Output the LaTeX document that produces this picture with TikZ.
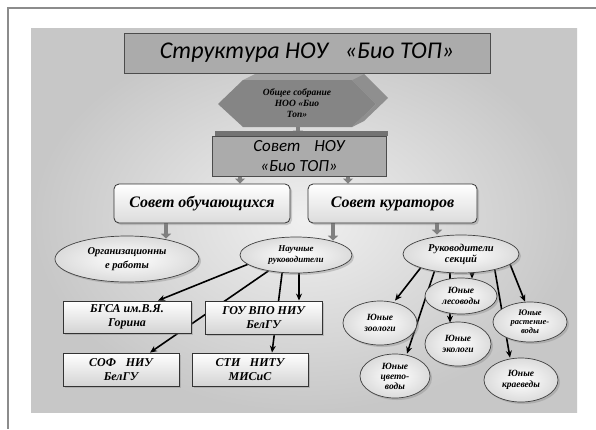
\documentclass[tikz,border=0pt]{standalone}
\usepackage{fontspec}
\setmainfont{Liberation Serif}
\newfontfamily\calib{Carlito}
\usetikzlibrary{shapes.geometric,arrows.meta,shadows,calc}
\pgfdeclarelayer{bg}
\pgfdeclarelayer{lines}
\pgfsetlayers{bg,lines,main}
\begin{document}
\begin{tikzpicture}[x=1pt,y=-1pt,
  scr/.style={font=\bfseries\itshape},
  shad/.style={drop shadow={opacity=0.35,shadow xshift=2pt,shadow yshift=-2pt}},
  graybox/.style={draw=black!70,line width=0.9pt,fill=black!33,inner sep=0,align=center},
  roundbox/.style={draw=black!80,line width=0.8pt,rounded corners=5pt,top color=white,bottom color=black!14,inner sep=0,align=center,shad},
  oval/.style={ellipse,draw=black!75,line width=0.7pt,inner color=white,outer color=black!14,inner sep=0,align=center,shad},
  recbox/.style={draw=black!80,line width=0.9pt,top color=white,bottom color=black!17,inner sep=0,align=center,shad},
  arr/.style={line width=1.6pt,-{Stealth[length=7pt,width=6pt]}},
  blk/.style={line width=4pt,draw=black!50,-{Triangle[width=10pt,length=5pt]}}]
\useasboundingbox (0,0) rectangle (596,429);
\begin{pgfonlayer}{bg}
  \fill[white] (0,0) rectangle (596,429);
  \draw[black!45,line width=1.3pt] (7,8) -- (596,8);
  \draw[black!45,line width=1.3pt] (8,8) -- (8,429);
  \shade[inner color=black!6,outer color=black!22] (31,28) rectangle (577,412);
\end{pgfonlayer}

% title
\node[graybox,minimum width=366,minimum height=40,font=\calib\itshape\fontsize{24}{28}\selectfont] (title) at (307,53) {Структура НОУ\hspace{0.7em}«Био ТОП»};

% hexagon
\fill[black!36] (243,80) -- (255,74) -- (364,74) -- (352,80) -- cycle;
\fill[black!44] (352,80) -- (364,74) -- (388,98) -- (364,121) -- (352,127) -- (376,104) -- cycle;
\fill[black!48] (218,104) -- (243,80) -- (352,80) -- (376,104) -- (352,127) -- (243,127) -- cycle;
\node[scr,inner sep=0,minimum width=158,minimum height=47,align=center,font=\bfseries\itshape\fontsize{9.5}{11}\selectfont] (hex) at (297,103.5) {Общее собрание\\НОО «Био\\Топ»};

% Совет НОУ
\fill[black!55] (215,131) rectangle (388,136);
\node[graybox,minimum width=174,minimum height=40,font=\calib\itshape\fontsize{17}{20}\selectfont] (sovet) at (299,156) {Совет\hspace{0.8em}НОУ\\«Био ТОП»};

% second level
\node[roundbox,minimum width=176,minimum height=39,font=\bfseries\itshape\fontsize{16}{19}\selectfont] (sobuch) at (202,203.5) {Совет обучающихся};
\node[roundbox,minimum width=169,minimum height=39,font=\bfseries\itshape\fontsize{16}{19}\selectfont] (skur) at (392.5,203.5) {Совет кураторов};

% third level
\node[oval,minimum width=144,minimum height=46,font=\bfseries\itshape\fontsize{10.5}{14}\selectfont] (org) at (127,259) {Организационны\\е работы};
\node[oval,minimum width=112,minimum height=36,font=\bfseries\itshape\fontsize{9}{10.5}\selectfont] (nauch) at (296,255) {Научные\\руководители};
\node[oval,minimum width=116,minimum height=38,font=\bfseries\itshape\fontsize{10.5}{11}\selectfont] (ruk) at (461,254) {Руководители\\секций};

% institutions
\node[recbox,minimum width=128,minimum height=32,font=\bfseries\itshape\fontsize{12}{14}\selectfont] (bgsa) at (127,317) {БГСА им.В.Я.\\Горина};
\node[recbox,minimum width=117,minimum height=33,font=\bfseries\itshape\fontsize{12}{14}\selectfont] (gou) at (263.5,317.5) {ГОУ ВПО НИУ\\БелГУ};
\node[recbox,minimum width=116,minimum height=33,font=\bfseries\itshape\fontsize{12}{14}\selectfont] (sof) at (121,369.5) {СОФ\hspace{0.8em}НИУ\\БелГУ};
\node[recbox,minimum width=116,minimum height=33,font=\bfseries\itshape\fontsize{12}{14}\selectfont] (sti) at (250,369.5) {СТИ\hspace{0.8em}НИТУ\\МИСиС};

% sections
\node[oval,minimum width=74,minimum height=44,font=\bfseries\itshape\fontsize{9.5}{11}\selectfont] (zool) at (380,323) {Юные\\зоологи};
\node[oval,minimum width=72,minimum height=36,font=\bfseries\itshape\fontsize{9.5}{11}\selectfont] (les) at (461,296) {Юные\\лесоводы};
\node[oval,minimum width=66,minimum height=44,font=\bfseries\itshape\fontsize{9.5}{11}\selectfont] (ekol) at (458,344) {Юные\\экологи};
\node[oval,minimum width=74,minimum height=40,font=\bfseries\itshape\fontsize{8.5}{9}\selectfont] (rast) at (530,322) {Юные\\растение-\\воды};
\node[oval,minimum width=70,minimum height=44,font=\bfseries\itshape\fontsize{9.5}{10}\selectfont] (cvet) at (395,376) {Юные\\цвето-\\воды};
\node[oval,minimum width=74,minimum height=44,font=\bfseries\itshape\fontsize{9.5}{11}\selectfont] (kraev) at (521,380) {Юные\\краеведы};

\begin{pgfonlayer}{lines}
  % block arrows
  \draw[blk] (hex.south -| 298,0) -- (sovet.north -| 298,0);
  \draw[blk] (sovet.south -| 240,0) -- (sobuch.north -| 240,0);
  \draw[blk] (sovet.south -| 348,0) -- (skur.north -| 348,0);
  \draw[blk] (sobuch.south -| 166,0) -- ($(org.north -| 166,0)+(0,3)$);
  \draw[blk] (skur.south -| 333,0) -- ($(nauch.north -| 333,0)+(0,4)$);
  \draw[blk] (skur.south -| 437,0) -- (ruk.north -| 437,0);
  % black connectors
  \draw[arr] (nauch.191) -- (bgsa.north -| 158,0);
  \draw[arr] (nauch.210) -- (sof.north -| 150,0);
  \draw[arr] (nauch.232) -- (sti.north -| 272,0);
  \draw[arr] (nauch.center -| 299,0) -- (gou.north -| 299,0);
  \draw[arr] (ruk.199) -- (zool.north -| 395,0);
  \draw[arr] (ruk.213) -- (cvet.north -| 407,0);
  \draw[arr] (ruk.center -| 450,0) -- ($(ekol.north -| 450,0)+(0,1)$);
  \draw[arr] (ruk.center -| 472,0) -- ($(les.north -| 472,0)+(0,1)$);
  \draw[arr] (ruk.335) -- (kraev.north -| 510,0);
  \draw[arr] (ruk.348) -- (rast.north -| 525,0);
\end{pgfonlayer}
\end{tikzpicture}
\end{document}
